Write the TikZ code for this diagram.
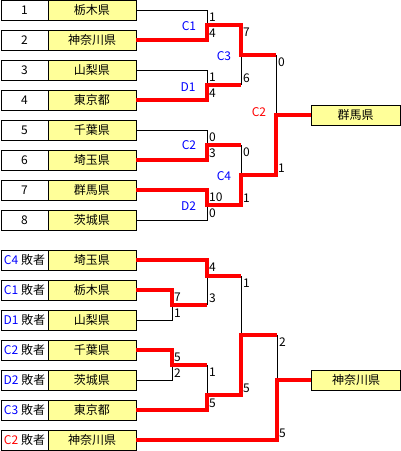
\documentclass[tikz,border=0pt]{standalone}
\usepackage{fontspec}
\setmainfont{Noto Sans CJK JP}
\definecolor{boxyellow}{HTML}{FFFF99}
\definecolor{cblue}{HTML}{0000FF}
\definecolor{cred}{HTML}{FF0000}
\begin{document}
\begin{tikzpicture}[x=1pt,y=-1pt,
  every node/.style={font=\fontsize{12}{14}\selectfont},
  idbox/.style={draw=black,line width=0.8pt,fill=white,minimum width=47pt,minimum height=20pt,inner sep=0pt},
  namebox/.style={idbox,fill=boxyellow,minimum width=88pt},
  winbox/.style={idbox,fill=boxyellow,minimum width=89pt},
  lose/.style={draw=black,line width=0.9pt},
  win/.style={draw=cred,line width=3.4pt},
  score/.style={anchor=west,inner xsep=1.5pt,inner ysep=0pt,text height=8.6pt,text depth=0pt},
  mlabel/.style={text=cblue,inner sep=0pt,text height=8.6pt,text depth=0pt},
  mlabelred/.style={mlabel,text=cred}]

\useasboundingbox (0,0) rectangle (401,451);

% ---------- upper bracket boxes ----------
\node[idbox] (L1) at (24.5,10) {1};   \node[namebox] (N1) at (92,10) {栃木県};
\node[idbox] (L2) at (24.5,40) {2};   \node[namebox] (N2) at (92,40) {神奈川県};
\node[idbox] (L3) at (24.5,70) {3};   \node[namebox] (N3) at (92,70) {山梨県};
\node[idbox] (L4) at (24.5,100) {4};  \node[namebox] (N4) at (92,100) {東京都};
\node[idbox] (L5) at (24.5,130) {5};  \node[namebox] (N5) at (92,130) {千葉県};
\node[idbox] (L6) at (24.5,160) {6};  \node[namebox] (N6) at (92,160) {埼玉県};
\node[idbox] (L7) at (24.5,190) {7};  \node[namebox] (N7) at (92,190) {群馬県};
\node[idbox] (L8) at (24.5,220) {8};  \node[namebox] (N8) at (92,220) {茨城県};
\node[winbox] (W1) at (355.5,115) {群馬県};

% ---------- lower bracket boxes ----------
\node[idbox] (L9)  at (24.5,260) {\textcolor{cblue}{C4} 敗者};  \node[namebox] (N9)  at (92,260) {埼玉県};
\node[idbox] (L10) at (24.5,290) {\textcolor{cblue}{C1} 敗者};  \node[namebox] (N10) at (92,290) {栃木県};
\node[idbox] (L11) at (24.5,320) {\textcolor{cblue}{D1} 敗者};  \node[namebox] (N11) at (92,320) {山梨県};
\node[idbox] (L12) at (24.5,350) {\textcolor{cblue}{C2} 敗者};  \node[namebox] (N12) at (92,350) {千葉県};
\node[idbox] (L13) at (24.5,380) {\textcolor{cblue}{D2} 敗者};  \node[namebox] (N13) at (92,380) {茨城県};
\node[idbox] (L14) at (24.5,410) {\textcolor{cblue}{C3} 敗者};  \node[namebox] (N14) at (92,410) {東京都};
\node[idbox] (L15) at (24.5,440) {\textcolor{cred}{C2} 敗者};   \node[namebox] (N15) at (92,440) {神奈川県};
\node[winbox] (W2) at (356,380) {神奈川県};

% ---------- upper junction coordinates ----------
\coordinate (c1t) at (207,10);  \coordinate (c1b) at (207,40);  \coordinate (c1j) at (207,25);
\coordinate (d1t) at (207,70);  \coordinate (d1b) at (207,100); \coordinate (d1j) at (207,85);
\coordinate (c3t) at (241,25);  \coordinate (c3b) at (241,85);  \coordinate (c3j) at (241,55);
\coordinate (c2t) at (207,130); \coordinate (c2b) at (207,160); \coordinate (c2j) at (207,145);
\coordinate (d2t) at (207,190); \coordinate (d2b) at (207,220); \coordinate (d2j) at (207,205);
\coordinate (c4t) at (241,145); \coordinate (c4b) at (241,205); \coordinate (c4j) at (241,175);
\coordinate (ft) at (276,55);   \coordinate (fb) at (276,175);  \coordinate (fj) at (276,115);

% ---------- lower junction coordinates ----------
\coordinate (at) at (172,290);  \coordinate (ab) at (172,320);  \coordinate (aj) at (172,305);
\coordinate (bt) at (207,260);  \coordinate (bb) at (207,305);  \coordinate (bj) at (207,276);
\coordinate (ct) at (172,350);  \coordinate (cb) at (172,380);  \coordinate (cj) at (172,365);
\coordinate (dt) at (207,365);  \coordinate (db) at (207,410);  \coordinate (dj) at (207,395);
\coordinate (et) at (241,276);  \coordinate (eb) at (241,395);  \coordinate (ej) at (241,335);
\coordinate (gt) at (277,335);  \coordinate (gb) at (277,440);  \coordinate (gj) at (277,380);

% ---------- losing (black) lines ----------
\draw[lose] (N1.east) -- (c1t) -- (c1b);
\draw[lose] (N3.east) -- (d1t) -- (d1b);
\draw[lose] (c3t) -- (c3b);
\draw[lose] (ft) -- (fb);
\draw[lose] (N5.east) -- (c2t) -- (c2b);
\draw[lose] (N8.east) -- (d2b) -- (d2t);
\draw[lose] (c4t) -- (c4b);

\draw[lose] (N11.east) -- (ab) -- (at);
\draw[lose] (bt) -- (bb);
\draw[lose] (N13.east) -- (cb) -- (ct);
\draw[lose] (dt) -- (db);
\draw[lose] (et) -- (eb);
\draw[lose] (gt) -- (gb);

% ---------- winning (red) lines ----------
\draw[win] (N2.east) -- (c1b) -- (c1j) -- (c3t) -- (c3j) -- (ft);
\draw[win] (N4.east) -- (d1b) -- (d1j) -- (c3b);
\draw[win] (N6.east) -- (c2b) -- (c2j) -- (c4t);
\draw[win] (N7.east) -- (d2t) -- (d2j) -- (c4b) -- (c4j) -- (fb) -- (fj) -- (W1.west);

\draw[win] (N10.east) -- (at) -- (aj) -- (bb);
\draw[win] (N9.east) -- (bt) -- (bj) -- (et);
\draw[win] (N12.east) -- (ct) -- (cj) -- (dt);
\draw[win] (N14.east) -- (db) -- (dj) -- (eb) -- (ej) -- (gt);
\draw[win] (N15.east) -- (gb) -- (gj) -- (W2.west);

% ---------- match labels ----------
\node[mlabel] (lC1) at (189,26.5) {C1};
\node[mlabel] (lD1) at (188,87) {D1};
\node[mlabel] (lC3) at (224,56) {C3};
\node[mlabelred] (lC2r) at (259,112.5) {C2};
\node[mlabel] (lC2) at (189,145.5) {C2};
\node[mlabel] (lC4) at (224,176) {C4};
\node[mlabel] (lD2) at (188.5,206) {D2};

% ---------- scores upper ----------
\node[score] (s1) at (207.5,17.5) {1};
\node[score] (s2) at (207.5,33) {4};
\node[score] (s3) at (207.5,77.5) {1};
\node[score] (s4) at (207.5,93) {4};
\node[score] (s5) at (241.5,32.5) {7};
\node[score] (s6) at (241.5,78) {6};
\node[score] (s7) at (276.5,62.5) {0};
\node[score] (s8) at (276.5,168) {1};
\node[score] (s9) at (207.5,137.5) {0};
\node[score] (s10) at (207.5,153) {3};
\node[score] (s11) at (207.5,197.5) {10};
\node[score] (s12) at (207.5,213) {0};
\node[score] (s13) at (241.5,152.5) {0};
\node[score] (s14) at (241.5,198) {1};

% ---------- scores lower ----------
\node[score] (s15) at (172.5,297.5) {7};
\node[score] (s16) at (172.5,313) {1};
\node[score] (s17) at (207.5,267.5) {4};
\node[score] (s18) at (207.5,298) {3};
\node[score] (s19) at (172.5,357.5) {5};
\node[score] (s20) at (172.5,373) {2};
\node[score] (s21) at (207.5,372.5) {1};
\node[score] (s22) at (207.5,403) {5};
\node[score] (s23) at (241.5,283.5) {1};
\node[score] (s24) at (241.5,388) {5};
\node[score] (s25) at (277.5,342.5) {2};
\node[score] (s26) at (277.5,433) {5};
\end{tikzpicture}
\end{document}
